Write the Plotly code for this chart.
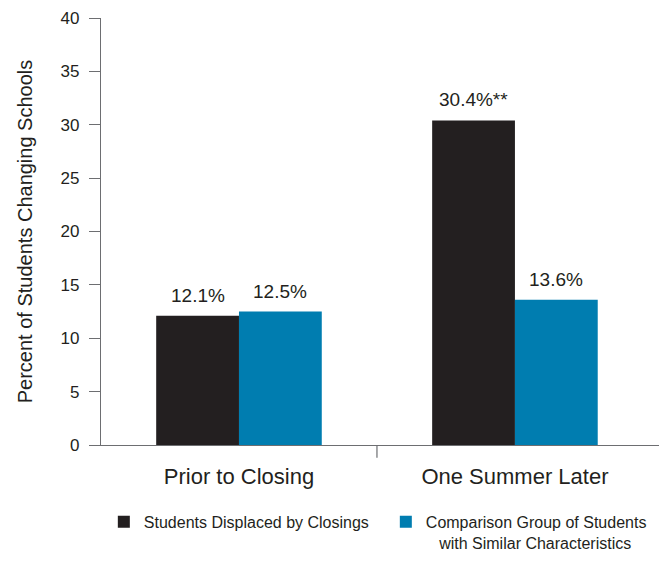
import plotly.graph_objects as go

categories = ["Prior to Closing", "One Summer Later"]
series_names = ["Students Displaced by Closings",
                "Comparison Group of Students<br>&nbsp;&nbsp;&nbsp;with Similar Characteristics"]
displaced = [12.1, 30.4]
comparison = [12.5, 13.6]
displaced_labels = ["12.1%", "30.4%**"]
comparison_labels = ["12.5%", "13.6%"]
y_ticks = [0, 5, 10, 15, 20, 25, 30, 35, 40]

FONT = "Liberation Sans, Arial, sans-serif"
DARK = "#231F20"
BLUE = "#007DB0"
AXIS = "#6D6E71"
TXT = "#231F20"

x = [0, 1]
fig = go.Figure()
fig.add_bar(x=x, y=displaced, name=series_names[0], marker_color=DARK,
            marker_line_width=0, offsetgroup="a")
fig.add_bar(x=x, y=comparison, name=series_names[1], marker_color=BLUE,
            marker_line_width=0, offsetgroup="b")

annotations = []
for i in range(2):
    annotations.append(dict(x=x[i] - 0.15, y=displaced[i], text=displaced_labels[i],
                            showarrow=False, yanchor="bottom", yshift=8,
                            font=dict(size=19, color=TXT, family=FONT)))
    annotations.append(dict(x=x[i] + 0.15, y=comparison[i], text=comparison_labels[i],
                            showarrow=False, yanchor="bottom", yshift=8,
                            font=dict(size=19, color=TXT, family=FONT)))

fig.update_layout(
    width=659, height=553,
    margin=dict(l=93, r=0, t=10, b=116, autoexpand=False),
    paper_bgcolor="white", plot_bgcolor="white",
    barmode="group", bargap=0.4, bargroupgap=0,
    font=dict(family=FONT, color=TXT),
    annotations=annotations,
    showlegend=True,
    legend=dict(orientation="h", x=0.005, xanchor="left", y=-0.14, yanchor="top",
                font=dict(size=16, family=FONT, color=TXT),
                traceorder="normal", valign="top",
                entrywidth=237, entrywidthmode="pixels"),
    shapes=[dict(type="line", xref="x", yref="paper", x0=0.5, x1=0.5,
                 y0=0, y1=-0.03, line=dict(color=AXIS, width=1.2))],
)
fig.update_xaxes(
    range=[-0.5, 1.551], tickvals=x, ticktext=categories, ticks="",
    showline=True, linecolor=AXIS, linewidth=1.2, showgrid=False, zeroline=False,
    tickfont=dict(size=22, family=FONT, color=TXT), ticklabelstandoff=11,
)
fig.update_yaxes(
    range=[0, 40], tickvals=y_ticks, ticks="outside", ticklen=11, tickcolor=AXIS,
    tickwidth=1.2, showline=True, linecolor=AXIS, linewidth=1.2, showgrid=False,
    zeroline=False, tickfont=dict(size=17, family=FONT, color=TXT),
    ticklabelstandoff=6,
    title=dict(text="Percent of Students Changing Schools", standoff=22,
               font=dict(size=20, family=FONT, color=TXT)),
)
fig.write_html("out.html")
